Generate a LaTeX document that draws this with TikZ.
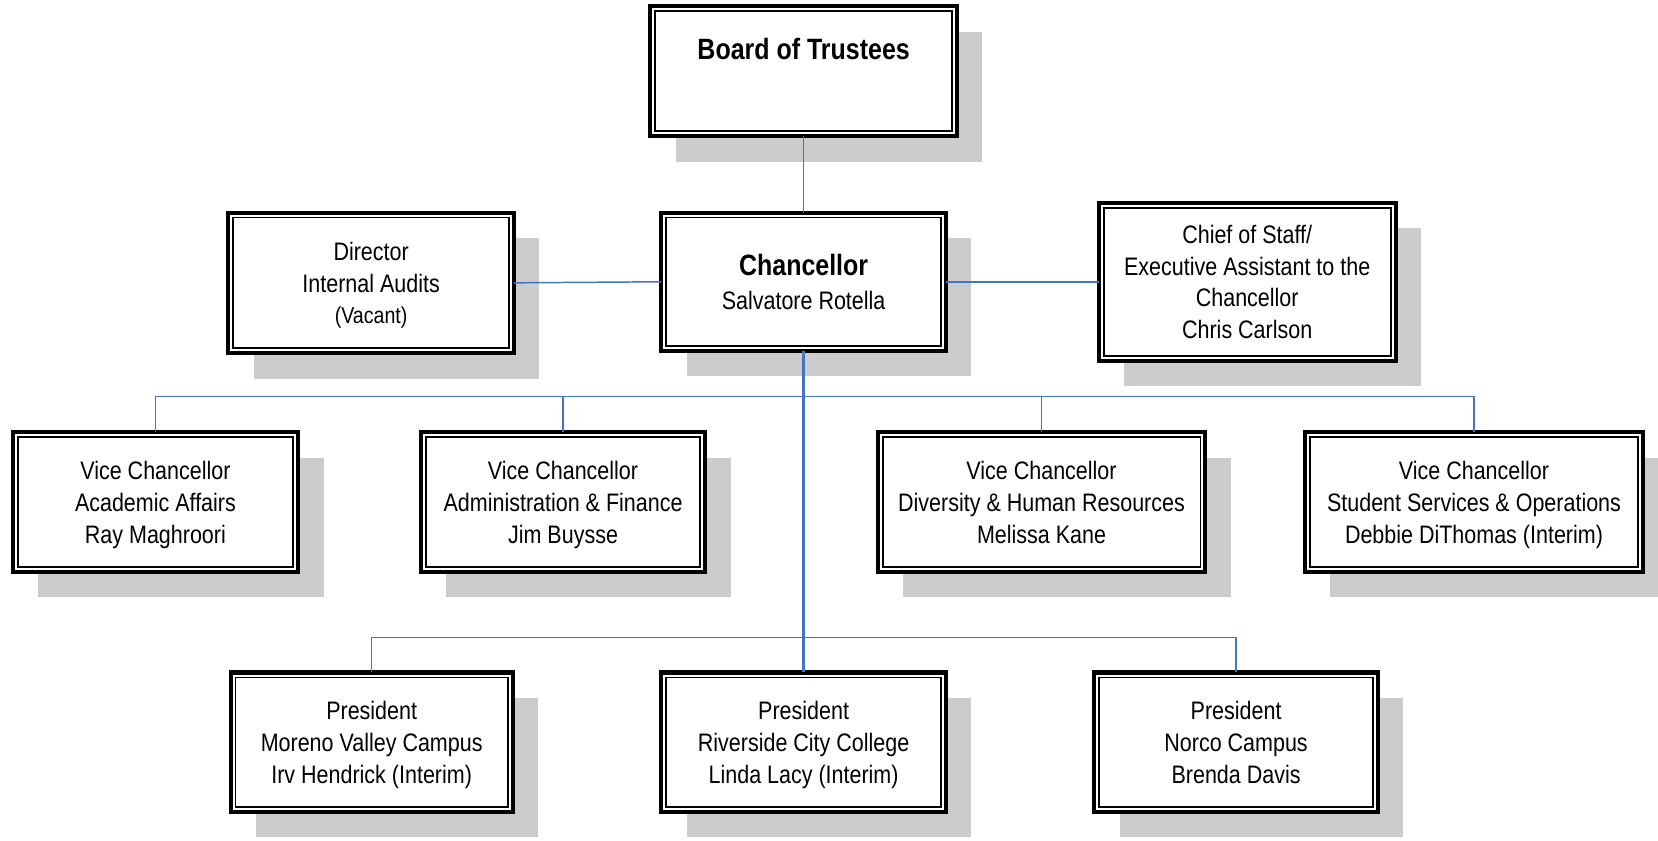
\documentclass[tikz,border=0pt]{standalone}
\usepackage{fontspec}
\setmainfont{Liberation Sans}[FakeStretch=0.85]
\usepackage{tikz}
\usetikzlibrary{calc}
\usetikzlibrary{positioning,shadows}

\newlength\px
\setlength\px{0.01cm}
\definecolor{linkblue}{RGB}{68,114,196}

\tikzset{
  unit/.style={draw, line width=3.8\px, fill=white, outer sep=0pt, inner sep=0pt,
    align=center, font=\fontsize{6.8}{8.5}\selectfont, text depth=0pt,
    drop shadow={shadow xshift=24\px, shadow yshift=-24\px, fill=black!20, opacity=1}},
  innerline/.style={line width=1.8\px},
  link/.style={draw=linkblue, line width=1.4\px},
  trunk/.style={draw=linkblue, line width=2.2\px}
}

\begin{document}
\begin{tikzpicture}[x=1\px,y=-1\px]
      \useasboundingbox (0,0) rectangle (1568,795);
      \node[unit,minimum width=290\px,minimum height=123\px] (board) at (760,67.5)
        {{\fontsize{7.9}{9.4}\selectfont\bfseries Board of Trustees}\\[12\px] \strut};
      \node[unit,minimum width=269\px,minimum height=131\px] (chan) at (760,266.5)
        {{\fontsize{7.9}{9.4}\selectfont\bfseries Chancellor}\\[2\px] Salvatore Rotella};
      \node[unit,minimum width=270\px,minimum height=133\px] (audit) at (351,267.5)
        {Director\\Internal Audits\\{\fontsize{6.2}{8.5}\selectfont (Vacant)}};
      \node[unit,minimum width=281\px,minimum height=149\px] (staff) at (1179.5,266.5)
        {Chief of Staff/\\Executive Assistant to the\\Chancellor\\Chris Carlson};
      \node[unit,minimum width=270\px,minimum height=132\px] (vcaa) at (147,475)
        {Vice Chancellor\\Academic Affairs\\Ray Maghroori};
      \node[unit,minimum width=269\px,minimum height=132\px] (vcaf) at (532.5,475)
        {Vice Chancellor\\Administration \& Finance\\Jim Buysse};
      \node[unit,minimum width=310\px,minimum height=132\px] (vcdhr) at (985,475)
        {Vice Chancellor\\Diversity \& Human Resources\\Melissa Kane};
      \node[unit,minimum width=320\px,minimum height=132\px] (vcsso) at (1394,475)
        {Vice Chancellor\\Student Services \& Operations\\Debbie DiThomas (Interim)};
      \node[unit,minimum width=267\px,minimum height=132\px] (pmv) at (351.5,702)
        {President\\Moreno Valley Campus\\Irv Hendrick (Interim)};
      \node[unit,minimum width=269\px,minimum height=132\px] (prcc) at (760,702)
        {President\\Riverside City College\\Linda Lacy (Interim)};
      \node[unit,minimum width=268\px,minimum height=132\px] (pnc) at (1169,702)
        {President\\Norco Campus\\Brenda Davis};
      \foreach \n in {board,chan,audit,staff,vcaa,vcaf,vcdhr,vcsso,pmv,prcc,pnc}
        \draw[innerline] ($(\n.north west)+(4.7,4.7)$) rectangle ($(\n.south east)+(-4.7,-4.7)$);
      \coordinate (vbus) at (760,375);
      \coordinate (pbus) at (760,603);
      \draw[link] (board.south) -- (chan.north);
      \draw[link] (audit.east) -- (chan.west);
      \draw[link] (chan.east) -- (staff.west);
      \draw[trunk] (chan.south) -- (prcc.north);
      \foreach \n in {vcaa,vcaf,vcdhr,vcsso}
        \draw[link] (vbus) -| (\n.north);
      \foreach \n in {pmv,pnc}
        \draw[link] (pbus) -| (\n.north);
\end{tikzpicture}
\end{document}
